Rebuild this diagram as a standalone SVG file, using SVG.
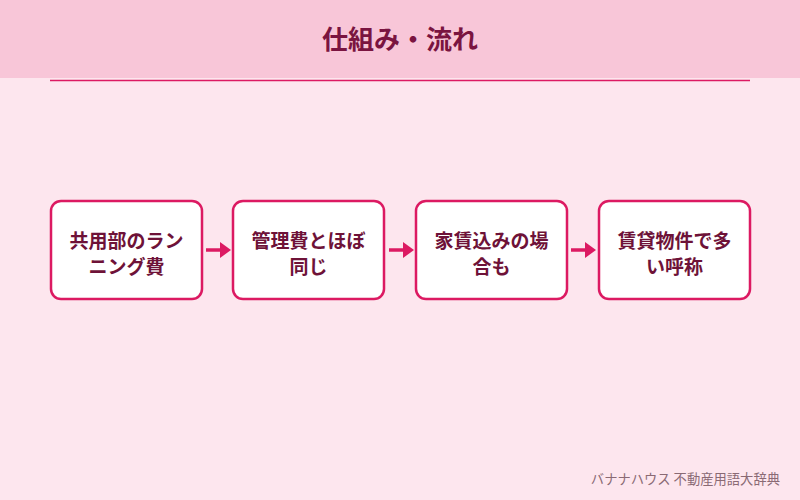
<svg xmlns="http://www.w3.org/2000/svg" width="800" height="500" viewBox="0 0 800 500">
<style>
.box{fill:#fff;stroke:#dc1a62;stroke-width:2.5}
.t{font-family:"Noto Sans CJK JP",sans-serif;font-size:19px;font-weight:bold;fill:#6e1238;text-anchor:middle}
.c{stroke:#dc1a62;stroke-width:3.5;fill:none}
.h{fill:#dc1a62}
</style>
<rect width="800" height="500" fill="#fde6ee"/>
<rect width="800" height="78" fill="#f8c6d8"/>
<text x="400" y="49" font-family="'Noto Sans CJK JP',sans-serif" font-size="26" font-weight="bold" fill="#7a1440" text-anchor="middle">仕組み・流れ</text>
<line x1="50" y1="80.5" x2="750" y2="80.5" stroke="#dc1a62" stroke-width="1.5"/>
<g id="n1"><rect class="box" x="51" y="201" width="151" height="98" rx="10"/><text class="t" x="126.5" y="248">共用部のラン</text><text class="t" x="126.5" y="274">ニング費</text></g>
<g id="n2"><rect class="box" x="233" y="201" width="151" height="98" rx="10"/><text class="t" x="308.5" y="248">管理費とほぼ</text><text class="t" x="308.5" y="274">同じ</text></g>
<g id="n3"><rect class="box" x="416" y="201" width="151" height="98" rx="10"/><text class="t" x="491.5" y="248">家賃込みの場</text><text class="t" x="491.5" y="274">合も</text></g>
<g id="n4"><rect class="box" x="599" y="201" width="151" height="98" rx="10"/><text class="t" x="674.5" y="248">賃貸物件で多</text><text class="t" x="674.5" y="274">い呼称</text></g>
<g id="connectors">
<line class="c" x1="206" y1="250" x2="222" y2="250"/><polygon class="h" points="220,242 231,250 220,258"/>
<line class="c" x1="389" y1="250" x2="405" y2="250"/><polygon class="h" points="403,242 414,250 403,258"/>
<line class="c" x1="571" y1="250" x2="587" y2="250"/><polygon class="h" points="585,242 596,250 585,258"/>
</g>
<text x="780" y="484" font-family="'Noto Sans CJK JP',sans-serif" font-size="13.3" fill="#8a6a74" text-anchor="end">バナナハウス 不動産用語大辞典</text>
</svg>
